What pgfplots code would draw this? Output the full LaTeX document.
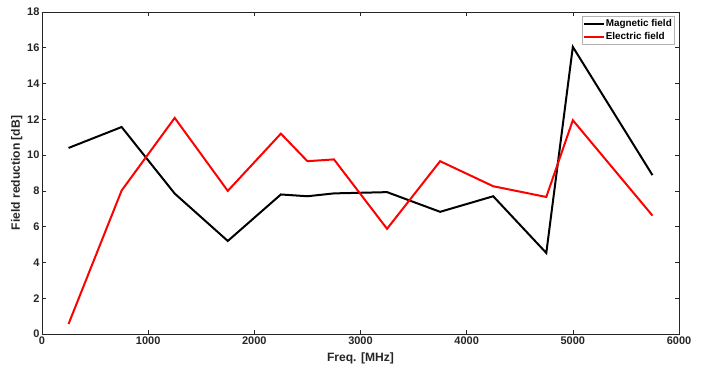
\documentclass[border=0pt]{standalone}
\usepackage{pgfplots}
\pgfplotsset{compat=1.18}
\usepackage{fontspec}
\setmainfont{Liberation Sans}
\definecolor{axgray}{RGB}{38,38,38}
\begin{document}
\begin{tikzpicture}
\begin{axis}[
  at={(0,0)}, anchor=south west,
  scale only axis, width=637bp, height=322bp,
  xmin=0, xmax=6000, ymin=0, ymax=18,
  xtick={0,1000,...,6000}, ytick={0,2,...,18},
  scaled x ticks=false,
  /pgf/number format/assume math mode=true,
  /pgf/number format/1000 sep={},
  tick label style={font=\fontsize{11bp}{13bp}\selectfont\bfseries, text=axgray},
  label style={font=\fontsize{12.1bp}{14bp}\selectfont\bfseries, text=axgray},
  xlabel={Freq. [MHz]}, ylabel={Field reduction [dB]},
  xticklabel style={yshift=1bp},
  yticklabel style={xshift=1bp},
  xlabel style={yshift=-2bp},
  ylabel style={yshift=-2bp},
  axis line style={axgray, line width=0.8bp},
  tick style={axgray, line width=0.6bp},
  tick align=inside, major tick length=4bp,
  legend style={at={(1,1)}, anchor=north east, xshift=-5bp, yshift=-4bp,
    draw=black!30, font=\fontsize{9.9bp}{12bp}\selectfont\bfseries,
    inner xsep=1bp, inner ysep=1bp, row sep=0.5bp, cells={anchor=west},
    nodes={inner xsep=1bp}},
  legend image code/.code={\draw[#1, line width=2bp] (0bp,0bp) -- (20bp,0bp);},
  legend cell align=left,
]
\addplot[black, line width=2bp] coordinates {
(250,10.4) (750,11.57) (1250,7.85) (1750,5.2) (2250,7.8) (2500,7.7) (2750,7.86) (3250,7.93) (3750,6.83) (4250,7.7) (4750,4.53) (5000,16.05) (5750,8.88)
};
\addlegendentry{Magnetic field}
\addplot[red, line width=2bp] coordinates {
(250,0.56) (750,8.02) (1250,12.08) (1750,8.0) (2250,11.2) (2500,9.66) (2750,9.76) (3250,5.88) (3750,9.66) (4250,8.26) (4750,7.66) (5000,11.95) (5750,6.62)
};
\addlegendentry{Electric field}
\end{axis}
\pgfresetboundingbox
\path (-42bp,-39bp) rectangle (665bp,334bp);
\end{tikzpicture}
\end{document}
